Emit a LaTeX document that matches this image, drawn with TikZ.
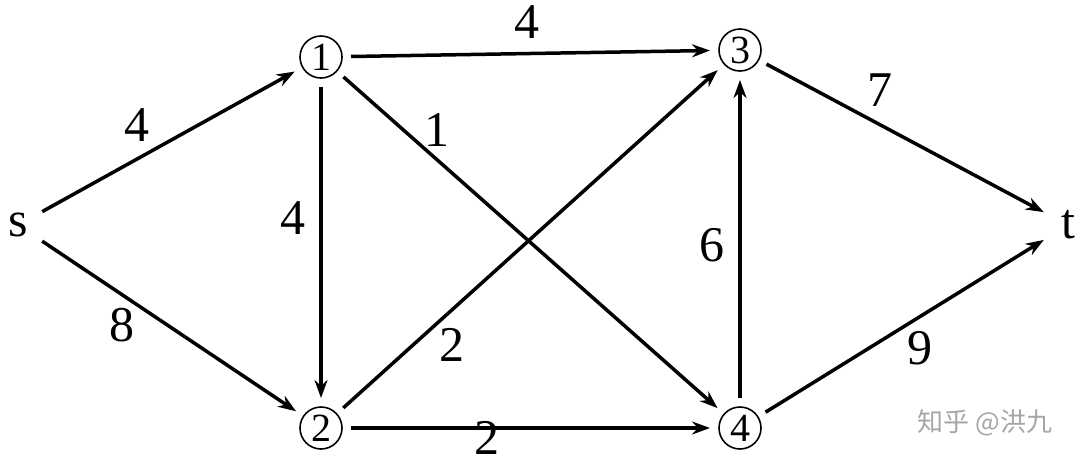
\documentclass[tikz,border=0pt]{standalone}
\usepackage{fontspec}
\setmainfont{Liberation Serif}
\newfontfamily\cjk{Noto Sans CJK SC}
\usetikzlibrary{arrows.meta}
\begin{document}
\begin{tikzpicture}[x=1pt,y=-1pt,
  vtx/.style={inner sep=0pt,minimum size=48pt,font=\fontsize{50}{60}\selectfont},
  cvtx/.style={circle,draw,line width=1.6pt,inner sep=0pt,minimum size=42pt,outer sep=9pt,font=\fontsize{40}{48}\selectfont},
  edge/.style={line width=3.5pt,-{Stealth[length=18pt,width=13pt]}},
  lbl/.style={font=\fontsize{50}{60}\selectfont,inner sep=0pt}]
\useasboundingbox (0,0) rectangle (1084,464);
\node[vtx] (s) at (18,225) {s};
\node[vtx] (t) at (1068,225) {t};
\node[cvtx] (n1) at (321,57) {1};
\node[cvtx] (n2) at (321,428) {2};
\node[cvtx] (n3) at (740,50) {3};
\node[cvtx] (n4) at (740,428) {4};
\draw[edge] (s) -- (n1);
\draw[edge] (s) -- (n2);
\draw[edge] (n1) -- (n3);
\draw[edge] (n1) -- (n2);
\draw[edge] (n1) -- (n4);
\draw[edge] (n2) -- (n3);
\draw[edge] (n2) -- (n4);
\draw[edge] (n4) -- (n3);
\draw[edge] (n3) -- (t);
\draw[edge] (n4) -- (t);
\node[lbl] (l1) at (527,22) {4};
\node[lbl] (l2) at (880,90) {7};
\node[lbl] (l3) at (137,125) {4};
\node[lbl] (l4) at (437,130) {1};
\node[lbl] (l5) at (293,218) {4};
\node[lbl] (l6) at (712,245) {6};
\node[lbl] (l7) at (122,325) {8};
\node[lbl] (l8) at (452,345) {2};
\node[lbl] (l9) at (920,348) {9};
\node[lbl] (l10) at (487,438) {2};
\node[font=\cjk\fontsize{26}{30}\selectfont,text=black!35,inner sep=0pt] (wm) at (985,423) {知乎 @洪九};
\end{tikzpicture}
\end{document}
